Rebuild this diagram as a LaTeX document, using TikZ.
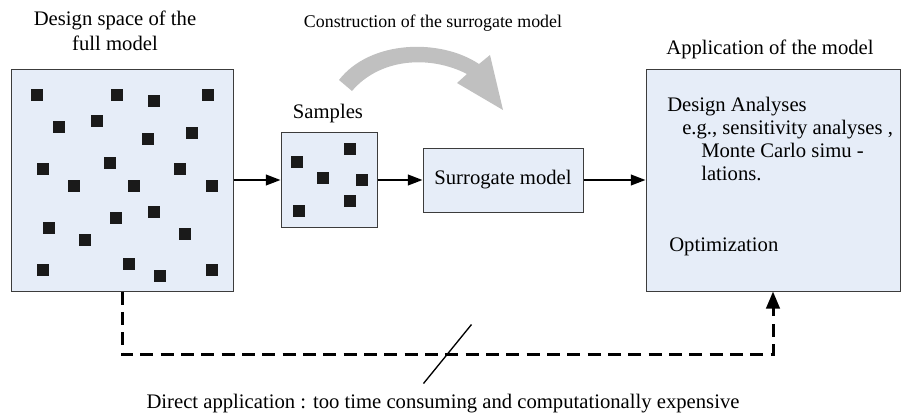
\documentclass[tikz,border=0pt]{standalone}
\usepackage{fontspec}
\setmainfont{Liberation Serif}
\usetikzlibrary{arrows.meta}
\definecolor{boxfill}{RGB}{230,237,248}
\definecolor{boxline}{RGB}{60,60,60}
\definecolor{sqcol}{RGB}{26,26,26}
\definecolor{bigarrow}{RGB}{192,192,192}

\begin{document}
\begin{tikzpicture}[x=0.75pt,y=-0.75pt,>={Triangle[length=11pt,width=8pt]},
  font=\fontsize{15.5}{18.75}\selectfont,
  box/.style={draw=boxline,fill=boxfill,line width=0.75pt,inner sep=0pt},
  flow/.style={->,line width=1.5pt},
  direct/.style={line width=2.25pt,dash pattern=on 9.75pt off 5.5pt,-{Triangle[length=12.75pt,width=10pt]}},
  pts/.style={fill=sqcol},
  txt/.style={anchor=base west,inner sep=0pt},
  lbl/.style={anchor=base,inner sep=0pt}]
\useasboundingbox (0,0) rectangle (904,418);
% boxes
\node[box,minimum width=166.5pt,minimum height=166.5pt] (full) at (122,180) {};
\node[box,minimum width=72pt,minimum height=71.25pt] (samples) at (329,180) {};
\node[box,minimum width=120pt,minimum height=48pt] (surr) at (503,180) {Surrogate model};
\node[box,minimum width=190.5pt,minimum height=166.5pt] (app) at (773,180) {};
% design points
\foreach \x/\y in {37/95,117/95,154/101,208/95,59/127,97/121,148/139,192/133,43/169,110/163,180/169,
  74/186,134/186,212/186,154/212,116/218,49/228,85/240,185/234,43/270,129/264,160/276,212/270}
  \fill[pts] (\x-6.25,\y-6.25) rectangle ++(12.5,12.5);
\foreach \x/\y in {350/149,297/162,323/178,362/180,350/201,299/211}
  \fill[pts] (\x-6.25,\y-6.25) rectangle ++(12.5,12.5);
% labels
\node[lbl,align=center] (fulllbl) at (115,50) {Design space of the\\full model};
\node[lbl] (samplbl) at (328,118) {Samples};
\node[lbl] (applbl) at (770,54) {Application of the model};
\node[lbl,font=\fontsize{13.4}{16}\selectfont] (constr) at (433,27) {Construction of the surrogate model};
\node[txt] (da) at (667,111) {Design Analyses};
\node[txt] (eg) at (682,134) {e.g., sensitivity analyses ,};
\node[txt] (mc) at (701,157) {Monte Carlo simu -};
\node[txt] (lat) at (701,180) {lations.};
\node[txt] (opt) at (669,251) {Optimization};
\node[lbl] (directlbl) at (443,408) {Direct application : too time consuming and computationally expensive};
% construction arrow
\fill[bigarrow] (339,80) .. controls (370,40) and (440,38) .. (479,64) -- (490,55) -- (503,110)
  -- (457,83) -- (467,74) .. controls (430,55) and (380,58) .. (352,91) -- cycle;
% flow
\draw[flow] (full) -- (samples);
\draw[flow] (samples) -- (surr);
\draw[flow] (surr) -- (app);
\draw[direct] (full.south) -- ++(0,63) coordinate (dl) -| (app.south);
\path (dl) -- coordinate (cut) (dl -| app.south);
\draw[line width=1pt] (cut) +(-24,29) -- +(24,-30);
\end{tikzpicture}
\end{document}
